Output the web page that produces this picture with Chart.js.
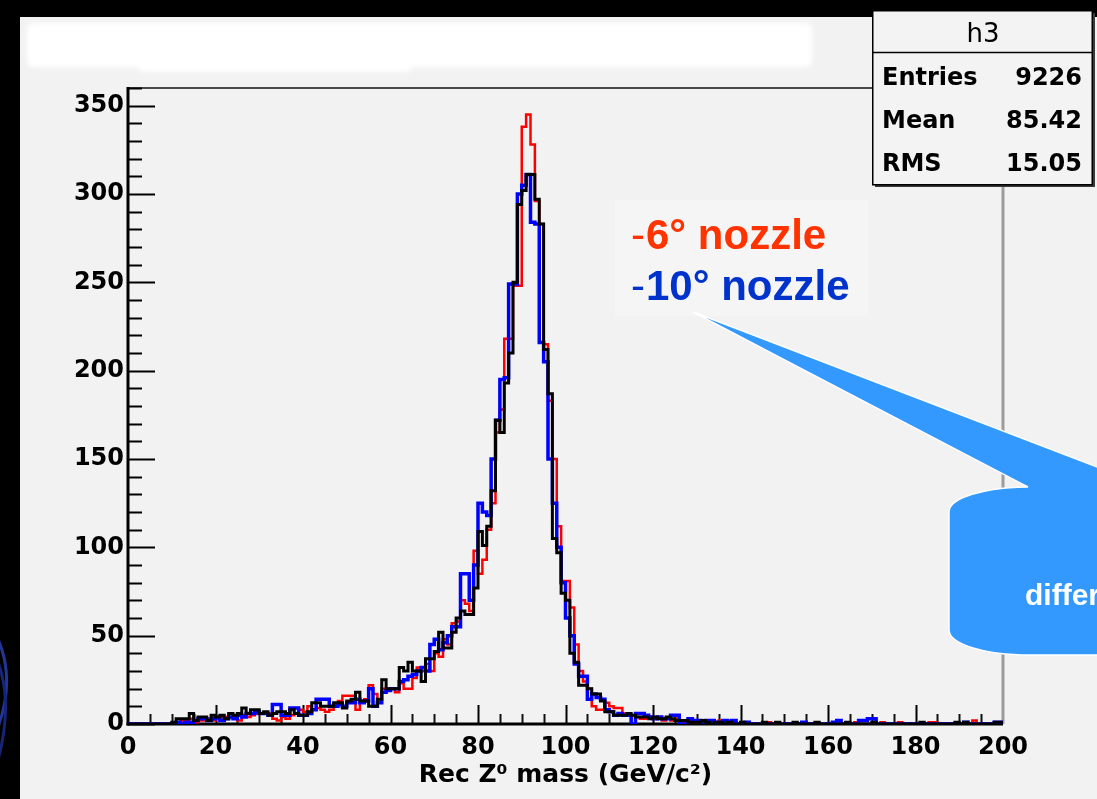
<!DOCTYPE html>
<html>
<head>
<meta charset="utf-8">
<script src="https://cdn.jsdelivr.net/npm/chart.js@4.4.1/dist/chart.umd.min.js"></script>
<style>
  html, body { margin:0; padding:0; background:#000; width:1097px; height:799px; overflow:hidden; }
  #panel { position:absolute; left:20px; top:17px; width:1077px; height:782px; background:#f2f2f2; }
  #c { position:absolute; left:0; top:0; }
  #ov { position:absolute; left:0; top:0; }
</style>
</head>
<body>
<div id="panel"></div>
<canvas id="c" width="1097" height="799"></canvas>
<svg id="ov" width="1097" height="799" xmlns="http://www.w3.org/2000/svg">
  <defs><filter id="soft" x="-5%" y="-30%" width="110%" height="160%"><feGaussianBlur stdDeviation="2.5"/></filter></defs>
  <g filter="url(#soft)" fill="#ffffff">
    <rect x="27" y="23" width="785" height="44" rx="6"/>
    <rect x="138" y="48" width="274" height="24" rx="6"/>
  </g>
  <g fill="none" stroke-width="3" opacity="0.85">
    <path d="M -40 590 Q 30 650 -5 735" stroke="#2a3fb0"/>
    <path d="M -30 620 Q 22 670 -2 760" stroke="#1a2c8c"/>
  </g>
  <!-- legend texts -->
  <rect x="615" y="200" width="253" height="116" fill="#f5f5f5"/>
  <text x="631" y="249" font-family="Liberation Sans, Arial, sans-serif" font-size="42" fill="#ff3300"><tspan font-weight="normal">-</tspan><tspan font-weight="bold" dx="1">6° nozzle</tspan></text>
  <text x="631" y="300" font-family="Liberation Sans, Arial, sans-serif" font-size="42" fill="#0033cc"><tspan font-weight="normal">-</tspan><tspan font-weight="bold" dx="1">10° nozzle</tspan></text>
  <!-- stats box -->
  <rect x="875" y="13" width="220" height="174" fill="#3a3a3a"/>
  <rect x="872.75" y="10.75" width="219.5" height="174" fill="#f3f3f3" stroke="#000" stroke-width="1.5"/>
  <line x1="873" y1="52.5" x2="1092" y2="52.5" stroke="#000" stroke-width="1.5"/>
  <text x="983" y="42" text-anchor="middle" font-family="DejaVu Sans, sans-serif" font-size="26" fill="#000">h3</text>
  <g font-family="DejaVu Sans, sans-serif" font-weight="bold" font-size="24" fill="#000">
    <text x="882" y="85">Entries</text>
    <text x="1082" y="85" text-anchor="end">9226</text>
    <text x="882" y="128">Mean</text>
    <text x="1082" y="128" text-anchor="end">85.42</text>
    <text x="882" y="171">RMS</text>
    <text x="1082" y="171" text-anchor="end">15.05</text>
  </g>
  <!-- callout -->
  <path d="M 693 312 L 1110 472 L 1110 655 L 1028 655 A 79 25 0 0 1 949 630 L 949 512 A 79 25 0 0 1 1028 487 Z" fill="#3399ff" stroke="#ffffff" stroke-width="1.5"/>
  <text x="1025" y="605" font-family="Liberation Sans, Arial, sans-serif" font-weight="bold" font-size="30" fill="#ffffff">differences</text>
</svg>
<script>
// ---- data (1 GeV bins from 0 to 200 GeV) ----
const binStart = 0;
const binWidth = 1;

const blackCounts = [
  0,0,0,0,0,0,0,0,0,0,
  0,1,3,3,3,6,2,4,4,2,
  5,4,5,3,6,5,6,9,6,8,
  8,6,7,5,6,7,7,6,8,6,
  5,5,7,12,12,10,10,10,12,12,
  9,13,14,18,13,13,10,10,14,25,
  20,20,20,32,30,35,30,30,24,37,
  37,41,52,43,43,52,60,64,62,62,
  77,109,101,112,132,172,165,193,210,250,
  294,302,311,311,297,283,212,187,105,97,
  74,70,40,35,22,22,20,17,17,13,
  7,7,5,5,5,6,5,4,4,4,
  3,4,3,3,4,3,2,2,2,1,
  1,1,2,1,0,1,1,0,1,0,
  0,1,0,0,0,0,1,0,0,1,
  0,0,0,1,0,0,0,0,1,0,
  0,0,0,0,0,1,0,0,0,0,
  0,1,0,0,0,0,0,0,0,0,
  0,0,1,0,0,0,0,0,0,0,
  1,0,1,0,0,0,0,0,0,1
];

const redCounts = [
  0,0,0,0,0,0,0,0,0,0,
  0,0,1,2,2,3,1,2,2,3,
  2,3,4,4,4,4,2,5,4,5,
  6,6,6,6,3,2,4,3,5,6,
  8,7,10,8,9,8,7,8,11,13,
  16,16,16,8,12,14,22,17,12,20,
  20,20,18,23,20,20,26,32,30,34,
  30,40,38,48,45,57,58,70,68,64,
  98,85,93,110,125,165,178,218,218,248,
  248,338,345,328,296,283,215,183,150,112,
  81,81,66,45,30,24,20,10,8,8,
  12,10,9,9,6,5,5,4,3,3,
  4,3,3,2,3,2,3,2,1,2,
  1,1,2,1,2,1,2,2,2,1,
  0,0,1,0,0,0,0,1,0,0,
  0,0,0,0,0,1,0,0,0,0,
  0,0,0,0,0,0,0,1,0,0,
  0,0,0,1,0,0,0,1,0,0,
  0,0,0,0,1,1,0,0,0,0,
  0,0,0,0,2,0,0,0,0,0
];

const blueCounts = [
  0,0,0,0,0,0,0,0,0,0,
  0,0,1,0,1,1,2,3,3,2,
  3,4,2,3,4,3,5,4,6,6,
  7,6,6,5,11,11,5,5,9,9,
  5,5,6,8,14,14,14,10,10,11,
  10,12,12,14,12,13,20,10,12,18,
  19,20,20,24,25,27,28,30,32,30,
  45,48,42,46,50,55,55,85,85,70,
  90,125,120,118,150,172,195,196,249,249,
  300,305,311,284,283,216,205,150,125,100,
  80,60,50,34,27,27,14,17,15,14,
  8,7,5,6,5,5,0,6,6,5,
  4,3,4,3,3,5,5,0,0,3,
  2,2,1,2,2,1,1,2,1,2,
  0,0,1,0,0,0,0,0,0,0,
  0,0,0,0,0,1,0,0,0,0,
  0,0,1,2,0,0,0,0,2,2,
  3,3,0,0,0,0,0,0,0,0,
  0,0,0,0,0,0,0,0,0,0,
  0,0,1,0,0,0,0,0,0,1
];

const xTickValues = [0,20,40,60,80,100,120,140,160,180,200];
const xTickLabels = ['0','20','40','60','80','100','120','140','160','180','200'];
const yTickValues = [0,50,100,150,200,250,300,350];
const yTickLabels = ['0','50','100','150','200','250','300','350'];
const xRange = [0, 200];
const yRange = [0, 360];
const xMinorStep = 5;
const yMinorStep = 10;
const xTitle = 'Rec Z\u2070 mass (GeV/c\u00B2)';

// ---- build step-histogram points from the bin arrays ----
function toSteps(counts) {
  const pts = counts.map((v, i) => ({ x: binStart + i * binWidth, y: v }));
  pts.push({ x: binStart + counts.length * binWidth, y: counts[counts.length - 1] });
  return pts;
}

const framePlugin = {
  id: 'rootFrame',
  beforeDatasetsDraw(chart) {
    const { ctx, chartArea: a, scales: { x, y } } = chart;
    ctx.save();
    const seg = (x1, y1, x2, y2) => { ctx.beginPath(); ctx.moveTo(x1, y1); ctx.lineTo(x2, y2); ctx.stroke(); };
    // right frame (grey)
    ctx.strokeStyle = '#9c9c9c'; ctx.lineWidth = 3;
    seg(a.right, a.top, a.right, a.bottom);
    // top frame
    ctx.strokeStyle = '#111'; ctx.lineWidth = 1.5;
    seg(a.left, a.top, a.right, a.top);
    // x ticks (inside, upward)
    ctx.lineWidth = 2;
    for (let v = xRange[0]; v <= xRange[1]; v += xMinorStep) {
      const px = Math.round(x.getPixelForValue(v)) + 0.5;
      const major = xTickValues.includes(v);
      if (major && (v === xRange[0] || v === xRange[1])) continue;
      ctx.strokeStyle = major ? '#000' : '#111';
      seg(px, a.bottom, px, a.bottom - (major ? 19 : 10));
    }
    // y ticks (inside, rightward)
    ctx.strokeStyle = '#000';
    for (let v = yRange[0]; v <= yRange[1]; v += yMinorStep) {
      const py = Math.round(y.getPixelForValue(v)) + 0.5;
      const major = yTickValues.includes(v);
      seg(a.left, py, a.left + (major ? 27 : 14), py);
    }
    // axes
    ctx.strokeStyle = '#000'; ctx.lineWidth = 3;
    seg(a.left, a.top - 1, a.left, a.bottom + 1.5);
    seg(a.left - 1.5, a.bottom, a.right, a.bottom);
    ctx.restore();
  }
};

const tickFont = { family: 'DejaVu Sans', weight: 'bold', size: 24 };

new Chart(document.getElementById('c'), {
  type: 'line',
  data: {
    datasets: [
      { label: 'h3', data: toSteps(blackCounts), borderColor: '#000000', borderWidth: 3, stepped: 'after' },
      { label: '-10\u00B0 nozzle', data: toSteps(blueCounts), borderColor: '#0000ff', borderWidth: 3.5, stepped: 'after' },
      { label: '-6\u00B0 nozzle', data: toSteps(redCounts), borderColor: '#ff0000', borderWidth: 2.5, stepped: 'after' }
    ]
  },
  options: {
    responsive: false,
    animation: false,
    devicePixelRatio: 1,
    layout: { padding: { left: 0, top: 88, right: 94, bottom: 0 } },
    elements: { point: { radius: 0 }, line: { tension: 0, fill: false } },
    plugins: { legend: { display: false }, tooltip: { enabled: false } },
    scales: {
      x: {
        type: 'linear', min: xRange[0], max: xRange[1],
        afterBuildTicks: (s) => { s.ticks = xTickValues.map(v => ({ value: v })); },
        afterFit: (s) => { s.height = 75; },
        grid: { display: false, drawTicks: false },
        border: { display: false },
        ticks: {
          font: tickFont, color: '#000', padding: 9, maxRotation: 0, autoSkip: false,
          callback: (v) => xTickLabels[xTickValues.indexOf(v)]
        },
        title: {
          display: true, text: xTitle, color: '#000',
          font: { family: 'DejaVu Sans', weight: 'bold', size: 25 },
          padding: { top: 0, bottom: 9 }
        }
      },
      y: {
        type: 'linear', min: yRange[0], max: yRange[1],
        afterBuildTicks: (s) => { s.ticks = yTickValues.map(v => ({ value: v })); },
        afterFit: (s) => { s.width = 128; },
        grid: { display: false, drawTicks: false },
        border: { display: false },
        ticks: {
          font: tickFont, color: '#000', padding: 4,
          callback: (v) => yTickLabels[yTickValues.indexOf(v)]
        }
      }
    }
  },
  plugins: [framePlugin]
});
</script>
</body>
</html>
